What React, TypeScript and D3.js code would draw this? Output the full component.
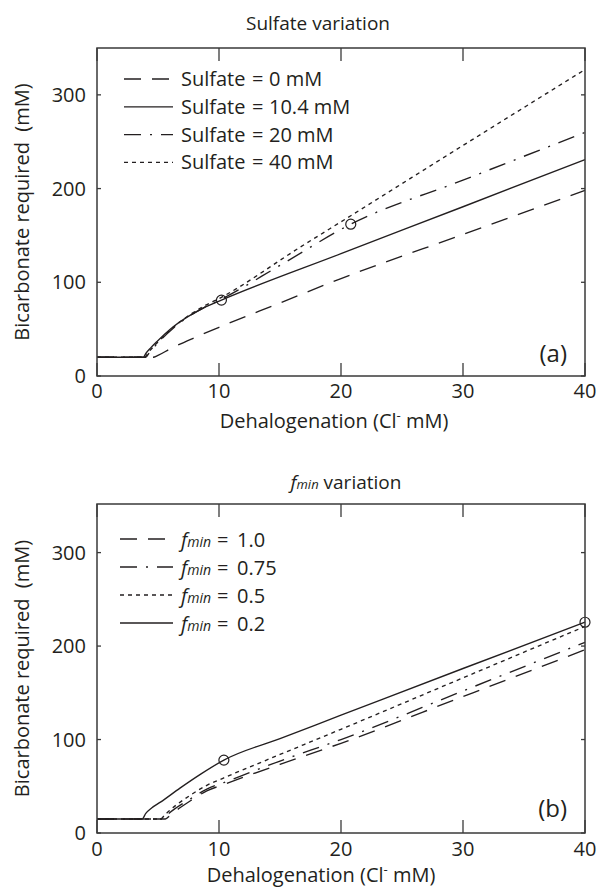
import React from "react";
import * as d3 from "d3";

// ---------- Data ----------
// Panel (a): Sulfate variation
const sulfate0X = [0, 4.6, 5.0, 6, 8, 10, 15, 20, 30, 40];
const sulfate0Y = [20, 20, 22, 29, 41, 52, 78, 104, 151, 198];
const sulfate104X = [0, 3.8, 4.0, 4.4, 4.9, 6.25, 7.35, 8.7, 10.2, 20, 30, 40];
const sulfate104Y = [20, 20, 24, 30, 36.6, 52.6, 62.6, 72.5, 81, 130.5, 180.6, 231];
const sulfate20X = [0, 4.0, 4.3, 4.9, 6.25, 7.35, 8.7, 10.2, 15, 20.8, 30, 40];
const sulfate20Y = [20, 20, 25, 34, 51, 62, 72.5, 82, 118, 162, 209, 260];
const sulfate40X = [0, 3.9, 4.2, 4.9, 6.25, 7.35, 8.7, 10.2, 16.6, 20.8, 30, 40];
const sulfate40Y = [20, 20, 25, 35, 52, 63, 74, 84, 137, 171, 246, 327];
const markersAX = [10.2, 20.8];
const markersAY = [81, 162];
const legendA = ["0 mM", "10.4 mM", "20 mM", "40 mM"];

// Panel (b): f_min variation
const fmin1X = [0, 5.6, 6.0, 6.8, 7.6, 9, 10.4, 15, 20, 30, 40];
const fmin1Y = [15, 15, 19, 27, 34, 45, 52, 73.5, 96, 146, 196];
const fmin075X = [0, 5.4, 5.8, 6.5, 7.6, 9, 10.4, 15, 20, 30, 40];
const fmin075Y = [15, 15, 20, 27, 36, 47, 54, 77, 100, 152, 204];
const fmin05X = [0, 5.2, 5.6, 6.5, 7.6, 9, 10.4, 15, 20, 30, 40];
const fmin05Y = [15, 15, 20, 30, 40, 51, 59, 84, 111, 166, 221];
const fmin02X = [0, 3.7, 4.0, 4.5, 5.2, 6.8, 8.5, 10.4, 15, 20, 30, 40];
const fmin02Y = [15, 15, 21, 27, 33, 48, 63, 78, 101, 126, 176, 225.5];
const markersBX = [10.4, 40];
const markersBY = [78, 225.5];
const legendB = ["1.0", "0.75", "0.5", "0.2"];

const xTicks = [0, 10, 20, 30, 40];
const yTicks = [0, 100, 200, 300];

// ---------- Styles ----------
const FONT = "'Open Sans', sans-serif";
const INK = "#231f20";
const AXIS = "#3a3a3a";
const DASHED = "17,11";
const DASHDOT = "17,9,2,9";
const DOTTED = "4,4";

const zip = (xs: number[], ys: number[]) => xs.map((x, i) => [x, ys[i]] as [number, number]);

type Series = { pts: [number, number][]; dash: string | null };

function Panel(props: {
  top: number;
  bottom: number;
  yMax: number;
  series: Series[];
  markers: [number, number][];
  title: React.ReactNode;
  titleY: number;
  titleX: number;
  tag: string;
  tagY: number;
  xLabelY: number;
  xLabelX: number;
  tickLabelY: number;
  legend: { dash: string | null; label: React.ReactNode; lineY: number }[];
  legendX0: number;
}) {
  const left = 97;
  const right = 585;
  const x = d3.scaleLinear().domain([0, 40]).range([left, right]);
  const y = d3.scaleLinear().domain([0, props.yMax]).range([props.bottom, props.top]);
  const line = d3
    .line<[number, number]>()
    .x((d) => x(d[0]))
    .y((d) => y(d[1]))
    .curve(d3.curveMonotoneX);
  const midY = (props.top + props.bottom) / 2;
  return (
    <g>
      {props.series.map((s, i) => (
        <path
          key={i}
          d={line(s.pts) || ""}
          fill="none"
          stroke={INK}
          strokeWidth={1.35}
          strokeDasharray={s.dash || undefined}
        />
      ))}
      {props.markers.map((m, i) => (
        <circle key={i} cx={x(m[0])} cy={y(m[1])} r={5} fill="none" stroke={INK} strokeWidth={1.2} />
      ))}
      <rect
        x={left}
        y={props.top}
        width={right - left}
        height={props.bottom - props.top}
        fill="none"
        stroke={AXIS}
        strokeWidth={1.5}
      />
      {xTicks.map((t) => (
        <g key={"xt" + t}>
          <line x1={x(t)} x2={x(t)} y1={props.bottom} y2={props.bottom - 13} stroke={AXIS} strokeWidth={1.3} />
          <line x1={x(t)} x2={x(t)} y1={props.top} y2={props.top + 13} stroke={AXIS} strokeWidth={1.3} />
          <text x={x(t)} y={props.tickLabelY} textAnchor="middle" fontSize={20} fontFamily={FONT} fill={INK}>
            {t}
          </text>
        </g>
      ))}
      {yTicks.map((t) => (
        <g key={"yt" + t}>
          <line x1={left} x2={left + 4} y1={y(t)} y2={y(t)} stroke={AXIS} strokeWidth={1.3} />
          <line x1={right} x2={right - 4} y1={y(t)} y2={y(t)} stroke={AXIS} strokeWidth={1.3} />
          <text x={86} y={y(t) + 7} textAnchor="end" fontSize={20} fontFamily={FONT} fill={INK}>
            {t}
          </text>
        </g>
      ))}
      <text x={props.titleX} y={props.titleY} textAnchor="middle" fontSize={19} fontFamily={FONT} fill={INK}>
        {props.title}
      </text>
      <text
        transform={`translate(29,${midY}) rotate(-90)`}
        textAnchor="middle"
        fontSize={20}
        fontFamily={FONT}
        fill={INK}
        style={{ whiteSpace: "pre" }}
      >
        {"Bicarbonate required  (mM)"}
      </text>
      <text x={props.xLabelX} y={props.xLabelY} textAnchor="middle" fontSize={20} fontFamily={FONT} fill={INK}>
        Dehalogenation (Cl
        <tspan dy={-8} fontSize={13}>
          -
        </tspan>
        <tspan dy={8}> mM)</tspan>
      </text>
      <text x={567} y={props.tagY} textAnchor="end" fontSize={24} fontFamily={FONT} fill={INK}>
        {props.tag}
      </text>
      {props.legend.map((l, i) => (
        <g key={"lg" + i}>
          <line
            x1={props.legendX0}
            x2={173}
            y1={l.lineY}
            y2={l.lineY}
            stroke={INK}
            strokeWidth={1.3}
            strokeDasharray={l.dash || undefined}
          />
          {l.label}
        </g>
      ))}
    </g>
  );
}

export default function App() {
  const seriesA: Series[] = [
    { pts: zip(sulfate0X, sulfate0Y), dash: DASHED },
    { pts: zip(sulfate104X, sulfate104Y), dash: null },
    { pts: zip(sulfate20X, sulfate20Y), dash: DASHDOT },
    { pts: zip(sulfate40X, sulfate40Y), dash: DOTTED },
  ];
  const seriesB: Series[] = [
    { pts: zip(fmin1X, fmin1Y), dash: DASHED },
    { pts: zip(fmin075X, fmin075Y), dash: DASHDOT },
    { pts: zip(fmin05X, fmin05Y), dash: DOTTED },
    { pts: zip(fmin02X, fmin02Y), dash: null },
  ];
  const dashesA = [DASHED, null, DASHDOT, DOTTED];
  const dashesB = [DASHED, DASHDOT, DOTTED, null];
  const legA = legendA.map((v, i) => {
    const base = 86 + i * 27.8;
    return {
      dash: dashesA[i],
      lineY: base - 7,
      label: (
        <text y={base} fontSize={20} fontFamily={FONT} fill={INK}>
          <tspan x={181}>Sulfate</tspan>
          <tspan x={252}>=</tspan>
          <tspan x={269}>{v}</tspan>
        </text>
      ),
    };
  });
  const legB = legendB.map((v, i) => {
    const base = 547 + i * 28;
    return {
      dash: dashesB[i],
      lineY: base - 8,
      label: (
        <text y={base} fontSize={20} fontFamily={FONT} fill={INK}>
          <tspan x={181} fontStyle="italic">f</tspan>
          <tspan fontStyle="italic" fontSize={14}>min</tspan>
          <tspan x={217}>=</tspan>
          <tspan x={237}>{v}</tspan>
        </text>
      ),
    };
  });
  return (
    <svg width={597} height={888} style={{ position: "absolute", left: 0, top: 0, background: "#fff" }}>
      <rect width={597} height={888} fill="#fff" />
      <Panel
        top={48}
        bottom={376}
        yMax={350}
        series={seriesA}
        markers={zip(markersAX, markersAY)}
        title="Sulfate variation"
        titleX={318}
        titleY={30}
        tag="(a)"
        tagY={362}
        xLabelX={334}
        xLabelY={428}
        tickLabelY={398}
        legend={legA}
        legendX0={124}
      />
      <Panel
        top={504}
        bottom={833}
        yMax={352}
        series={seriesB}
        markers={zip(markersBX, markersBY)}
        title={
          <>
            <tspan fontStyle="italic">f</tspan>
            <tspan fontStyle="italic" fontSize={13}>min</tspan>
            <tspan> variation</tspan>
          </>
        }
        titleX={346}
        titleY={489}
        tag="(b)"
        tagY={817}
        xLabelX={321}
        xLabelY={882}
        tickLabelY={856}
        legend={legB}
        legendX0={120}
      />
    </svg>
  );
}
